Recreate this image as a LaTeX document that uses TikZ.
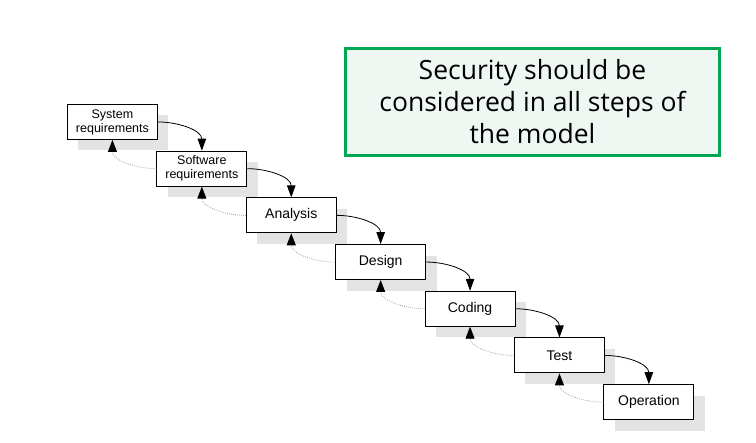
\documentclass[tikz,border=0pt]{standalone}
\usepackage{fontspec}
\setmainfont{Liberation Sans}
\newfontfamily\notefont{Open Sans}
\usetikzlibrary{positioning,arrows.meta,shadows}
\definecolor{notegreen}{HTML}{00A651}
\definecolor{notefill}{HTML}{EEF7F1}
\definecolor{shadowgray}{HTML}{E3E3E3}
\tikzset{
    phase-box/.style = {draw=black, fill=white, line width=0.9pt, rectangle, minimum width=90pt, minimum height=35pt, inner sep=1pt, align=center, font=\fontsize{14}{14}\selectfont, drop shadow={shadow xshift=11pt, shadow yshift=-11pt, fill=shadowgray, opacity=1}},
    phase-box-small/.style = {phase-box, font=\fontsize{12.5}{14}\selectfont},
    next-phase/.style = {below right=10.8pt and -1.5pt of #1},
    flow-arrow/.style = {draw=black, line width=0.8pt, -{Triangle[length=12pt,width=8.5pt]}},
    back-arrow/.style = {draw=gray!80, line width=0.8pt, dash pattern=on 0.7pt off 1.3pt, -{Triangle[length=12pt,width=9pt,black]}},
    note-box/.style = {draw=notegreen, fill=notefill, line width=3pt, rectangle, minimum width=374pt, minimum height=107pt, align=center, font=\notefont\fontsize{26.5}{32}\selectfont},
}
\begin{document}
\begin{tikzpicture}[x=1pt, y=-1pt]
\useasboundingbox (0,0) rectangle (756,443);
\node[note-box] (note) at (532.5,102) {Security should be\\considered in all steps of\\the model};
% the phases, each one step down and to the right
\node[phase-box-small, anchor=north west] (sysreq) at (67,104) {System\\requirements};
\node[phase-box-small, next-phase=sysreq] (swreq) {Software\\requirements};
\node[phase-box, next-phase=swreq] (analysis) {Analysis};
\node[phase-box, next-phase=analysis] (design) {Design};
\node[phase-box, next-phase=design] (coding) {Coding};
\node[phase-box, next-phase=coding] (test) {Test};
\node[phase-box, next-phase=test] (operation) {Operation};
% forward and feedback arrows
\draw[flow-arrow] (sysreq.east) to[out=0,in=90] (swreq.north);
\draw[flow-arrow] (swreq.east) to[out=0,in=90] (analysis.north);
\draw[flow-arrow] (analysis.east) to[out=0,in=90] (design.north);
\draw[flow-arrow] (design.east) to[out=0,in=90] (coding.north);
\draw[flow-arrow] (coding.east) to[out=0,in=90] (test.north);
\draw[flow-arrow] (test.east) to[out=0,in=90] (operation.north);
\draw[back-arrow] (swreq.west) to[out=180,in=-90] (sysreq.south);
\draw[back-arrow] (analysis.west) to[out=180,in=-90] (swreq.south);
\draw[back-arrow] (design.west) to[out=180,in=-90] (analysis.south);
\draw[back-arrow] (coding.west) to[out=180,in=-90] (design.south);
\draw[back-arrow] (test.west) to[out=180,in=-90] (coding.south);
\draw[back-arrow] (operation.west) to[out=180,in=-90] (test.south);
\end{tikzpicture}
\end{document}
